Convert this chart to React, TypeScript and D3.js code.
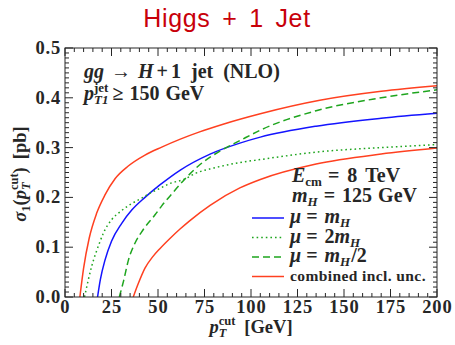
import React, { useEffect, useRef } from 'react';
import * as d3 from 'd3';

// values (pT cut in GeV, sigma in pb)
const xTicks = [0, 25, 50, 75, 100, 125, 150, 175, 200];
const yTicks = [0, 0.1, 0.2, 0.3, 0.4, 0.5];

const ptMuH = [17.5, 19, 21.5, 25, 30.5, 36, 43, 51, 62, 78, 94, 105, 135, 170, 200];
const sigMuH = [0, 0.035, 0.074, 0.112, 0.148, 0.175, 0.2, 0.225, 0.255, 0.287, 0.309, 0.321, 0.343, 0.359, 0.369];

const ptMu2 = [10.5, 14.3, 18.5, 20.6, 25, 29.6, 36, 41, 46, 51, 56.5, 64.5, 70, 80, 94, 105, 135, 170, 200];
const sigMu2 = [0, 0.061, 0.108, 0.128, 0.155, 0.171, 0.188, 0.198, 0.209, 0.218, 0.228, 0.237, 0.248, 0.259, 0.27, 0.276, 0.291, 0.3, 0.306];

const ptMuHalf = [29.2, 31.4, 34.1, 37.6, 42, 48.4, 52, 56.5, 64.5, 72.6, 83.3, 94, 105, 135, 170, 200];
const sigMuHalf = [0, 0.031, 0.074, 0.108, 0.135, 0.165, 0.183, 0.203, 0.237, 0.266, 0.293, 0.314, 0.335, 0.374, 0.4, 0.416];

const ptUncHi = [8, 10, 13, 17, 21.5, 27, 34, 43, 52, 62, 72, 85, 105, 137, 170, 200];
const sigUncHi = [0, 0.058, 0.118, 0.168, 0.205, 0.238, 0.263, 0.285, 0.301, 0.317, 0.331, 0.347, 0.368, 0.395, 0.413, 0.424];

const ptUncLo = [36.7, 39.4, 43, 47, 51, 56, 62, 67, 78, 94, 105, 135, 170, 200];
const sigUncLo = [0, 0.027, 0.058, 0.08, 0.097, 0.116, 0.137, 0.153, 0.184, 0.219, 0.236, 0.267, 0.287, 0.299];

const RED = '#ff4020';
const BLUE = '#1414ff';
const GREEN = '#1ea51e';
const INK = '#262626';
const SERIF = "'Liberation Serif', 'DejaVu Serif', serif";

type Part = { t: string; it?: boolean; sz?: number; sh?: number; back?: boolean; dx?: number };

// text with italic pieces and stacked sub/superscripts
function rich(parent: any, x: number, y: number, parts: Part[], size: number, anchor = 'start') {
  const text = parent.append('text')
    .attr('x', x).attr('y', y)
    .style('font-family', SERIF)
    .style('font-weight', 'bold')
    .style('font-size', size + 'px')
    .attr('fill', INK)
    .attr('text-anchor', anchor);
  let cur = 0;
  let lastW = 0;
  let carry = 0;
  parts.forEach(p => {
    const ts = text.append('tspan').text(p.t);
    const sh = p.sh || 0;
    ts.attr('dy', cur - sh);
    cur = sh;
    if (p.it) ts.style('font-style', 'italic');
    if (p.sz) ts.style('font-size', p.sz + 'px');
    let dx = (p.dx || 0) + carry;
    carry = 0;
    if (p.back) dx -= lastW;
    if (dx) ts.attr('dx', dx);
    const w = (ts.node() as SVGTextContentElement).getComputedTextLength();
    if (p.back) carry = Math.max(0, lastW - w);
    lastW = w;
  });
  return text;
}

const Chart = () => {
  const svgRef = useRef<SVGSVGElement>(null);

  useEffect(() => {
    const svg = d3.select(svgRef.current);
    svg.selectAll('*').remove();

    const width = 455;
    const height = 345;
    const margin = { top: 48, right: 18, bottom: 48, left: 65 };
    const x0 = margin.left, x1 = width - margin.right;
    const y0 = height - margin.bottom, y1 = margin.top;

    const x = d3.scaleLinear().domain([0, 200]).range([x0, x1]);
    const y = d3.scaleLinear().domain([0, 0.5]).range([y0, y1]);

    svg.attr('viewBox', [0, 0, width, height]);

    svg.append('text')
      .attr('x', 227).attr('y', 27)
      .attr('text-anchor', 'middle')
      .style('font-family', "'Liberation Sans', Arial, sans-serif")
      .style('font-size', '25px')
      .style('letter-spacing', '0.7px')
      .style('word-spacing', '4px')
      .attr('fill', '#c8000a')
      .text('Higgs + 1 Jet');

    svg.append('clipPath').attr('id', 'plot-clip')
      .append('rect').attr('x', x0).attr('y', y1).attr('width', x1 - x0).attr('height', y0 - y1);

    const line = d3.line<[number, number]>()
      .x(d => x(d[0]))
      .y(d => y(d[1]))
      .curve(d3.curveMonotoneX);

    const series = [
      { xs: ptUncHi, ys: sigUncHi, color: RED, dash: null },
      { xs: ptUncLo, ys: sigUncLo, color: RED, dash: null },
      { xs: ptMuH, ys: sigMuH, color: BLUE, dash: null },
      { xs: ptMu2, ys: sigMu2, color: GREEN, dash: '1.6,3' },
      { xs: ptMuHalf, ys: sigMuHalf, color: GREEN, dash: '7,4' },
    ];

    const plot = svg.append('g').attr('clip-path', 'url(#plot-clip)');
    series.forEach(s => {
      plot.append('path')
        .datum(s.xs.map((v, i) => [v, s.ys[i]] as [number, number]))
        .attr('fill', 'none')
        .attr('stroke', s.color)
        .attr('stroke-width', 1.5)
        .attr('stroke-dasharray', s.dash)
        .attr('d', line);
    });

    // frame + inward ticks on all sides
    const axes = svg.append('g').attr('stroke', INK).attr('stroke-width', 1);
    axes.append('rect')
      .attr('x', x0).attr('y', y1).attr('width', x1 - x0).attr('height', y0 - y1)
      .attr('fill', 'none');

    const xMinor = d3.range(0, 201, 5);
    const yMinor = d3.range(0, 51).map(i => i / 100);
    xMinor.forEach(v => {
      const len = v % 25 === 0 ? 8 : 4;
      axes.append('line').attr('x1', x(v)).attr('x2', x(v)).attr('y1', y0).attr('y2', y0 - len);
      axes.append('line').attr('x1', x(v)).attr('x2', x(v)).attr('y1', y1).attr('y2', y1 + len);
    });
    yMinor.forEach((v, i) => {
      const len = i % 10 === 0 ? 8 : 4;
      axes.append('line').attr('y1', y(v)).attr('y2', y(v)).attr('x1', x0).attr('x2', x0 + len);
      axes.append('line').attr('y1', y(v)).attr('y2', y(v)).attr('x1', x1).attr('x2', x1 - len);
    });

    const tickText = svg.append('g')
      .style('font-family', SERIF)
      .style('font-weight', 'bold')
      .style('font-size', '18.5px')
      .style('letter-spacing', '0.8px')
      .attr('fill', INK);
    xTicks.forEach(v => {
      tickText.append('text').attr('x', x(v) + 0.4).attr('y', 313)
        .attr('text-anchor', 'middle').text(String(v));
    });
    yTicks.forEach(v => {
      tickText.append('text').attr('x', 61).attr('y', y(v) + 6)
        .attr('text-anchor', 'end').text(d3.format('.1f')(v));
    });

    // axis titles
    rich(svg, 251, 333, [
      { t: 'p', it: true },
      { t: 'cut', sz: 12.5, sh: 8 },
      { t: 'T', it: true, sz: 12.5, sh: -4, back: true },
      { t: '[GeV]', sh: 0, dx: 9 },
    ], 18.5, 'middle');

    rich(svg, 0, 0, [
      { t: 'σ', it: true },
      { t: '1', sz: 12.5, sh: -4 },
      { t: '(', sh: 0 },
      { t: 'p', it: true },
      { t: 'cut', sz: 12.5, sh: 8 },
      { t: 'T', it: true, sz: 12.5, sh: -4, back: true },
      { t: ')', sh: 0 },
      { t: '[pb]', dx: 8 },
    ], 18.5, 'middle').attr('transform', 'translate(26,174) rotate(-90)');

    // process labels
    rich(svg, 84, 78, [
      { t: 'gg', it: true },
      { t: '→', dx: 7 },
      { t: 'H', it: true, dx: 7 },
      { t: '+', dx: 3 },
      { t: '1', dx: 3 },
      { t: 'jet', dx: 10 },
      { t: '(NLO)', dx: 10 },
    ], 20);
    rich(svg, 84, 100, [
      { t: 'p', it: true },
      { t: 'jet', sz: 13, sh: 8 },
      { t: 'T1', it: true, sz: 13, sh: -4, back: true },
      { t: '≥', sh: 0, dx: 4 },
      { t: '150', dx: 6 },
      { t: 'GeV', dx: 6 },
    ], 20);
    rich(svg, 292, 182, [
      { t: 'E', it: true },
      { t: 'cm', sz: 13, sh: -4 },
      { t: '=', sh: 0, dx: 6 },
      { t: '8', dx: 8 },
      { t: 'TeV', dx: 8 },
    ], 20);
    rich(svg, 292, 202, [
      { t: 'm', it: true },
      { t: 'H', it: true, sz: 13, sh: -4 },
      { t: '=', sh: 0, dx: 6 },
      { t: '125', dx: 7 },
      { t: 'GeV', dx: 6 },
    ], 20);

    // legend
    const legend = [
      { color: BLUE, dash: null, parts: [{ t: 'μ', it: true }, { t: '=', dx: 5 }, { t: 'm', it: true, dx: 7 }, { t: 'H', it: true, sz: 13, sh: -4 }] },
      { color: GREEN, dash: '1.6,3', parts: [{ t: 'μ', it: true }, { t: '=', dx: 5 }, { t: '2', dx: 7 }, { t: 'm', it: true }, { t: 'H', it: true, sz: 13, sh: -4 }] },
      { color: GREEN, dash: '7,4', parts: [{ t: 'μ', it: true }, { t: '=', dx: 5 }, { t: 'm', it: true, dx: 7 }, { t: 'H', it: true, sz: 13, sh: -4 }, { t: '/2', sh: 0, dx: 1 }] },
    ];
    legend.forEach((l, i) => {
      const ly = 218 + i * 19.5;
      svg.append('line')
        .attr('x1', 252).attr('x2', 284).attr('y1', ly).attr('y2', ly)
        .attr('stroke', l.color).attr('stroke-width', 1.5)
        .attr('stroke-dasharray', l.dash);
      rich(svg, 290, ly + 5, l.parts as Part[], 20);
    });
    svg.append('line')
      .attr('x1', 252).attr('x2', 284).attr('y1', 276.5).attr('y2', 276.5)
      .attr('stroke', RED).attr('stroke-width', 1.5);
    svg.append('text')
      .attr('x', 290).attr('y', 281)
      .style('font-family', SERIF)
      .style('font-size', '15.5px')
      .style('font-weight', 'bold')
      .style('letter-spacing', '0.4px')
      .attr('fill', INK)
      .text('combined incl. unc.');
  }, []);

  return <svg ref={svgRef} width={455} height={345} style={{ position: 'absolute', left: 0, top: 0 }}></svg>;
};

export default function App() {
  return <Chart />;
}
